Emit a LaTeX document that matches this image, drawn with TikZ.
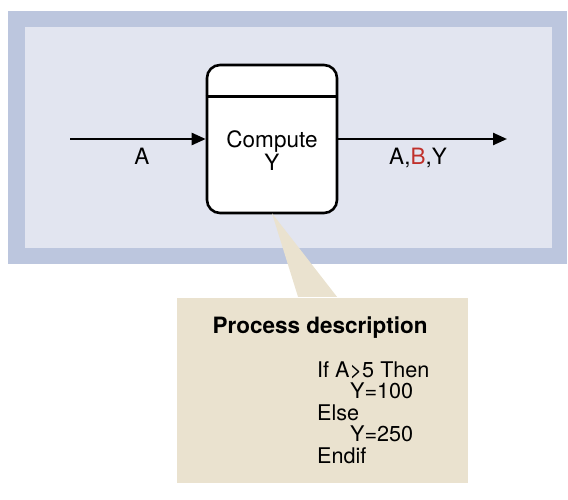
\documentclass[tikz,border=0pt]{standalone}
\usepackage{fontspec}
\setmainfont{TeX Gyre Heros}
\usetikzlibrary{arrows.meta}
\definecolor{bandblue}{HTML}{BCC6DE}
\definecolor{panelblue}{HTML}{E2E5F0}
\definecolor{notebeige}{HTML}{EAE2CF}
\definecolor{keyred}{HTML}{C0302B}
\begin{document}
\begin{tikzpicture}[x=1pt, y=-1pt]
        \tikzset{flow/.style={line width=2.4pt, -{Triangle[length=14pt, width=12pt]}},
                 label/.style={font=\fontsize{22.5}{23.5}\selectfont, inner sep=0pt},
                 procbox/.style={draw, line width=2.6pt, fill=white, rounded corners=13pt,
                                 minimum width=130pt, minimum height=148pt, inner sep=0pt}}
        \useasboundingbox (0, 0) rectangle (568, 500);

        % background frame
        \fill[bandblue] (8, 11) rectangle (567, 264);
        \fill[panelblue] (25, 27) rectangle (552, 248);

        \node[procbox] (proc) at (272, 139) {};
        \draw[line width=2.4pt] ([yshift=-33pt]proc.north west)
                                -- ([yshift=-33pt]proc.north east);
        \node[label, align=center, anchor=base] (proctext) at (272, 171)
             {Compute\\Y};

        \coordinate (in) at (70, 139);
        \coordinate (out) at (507, 139);
        \draw[flow] (in) -- (proc.west);
        \draw[flow] (proc.east) -- (out);
        \node[label, anchor=base] (inlabel) at (142, 165) {A};
        \node[label, anchor=base] (outlabel) at (418, 165)
             {A,\textcolor{keyred}{B},Y};

        % callout
        \node[fill=notebeige, minimum width=291pt, minimum height=185pt,
              inner sep=0pt] (desc) at (322.5, 390.5) {};
        \fill[notebeige] ([yshift=1pt]proc.south)
                         -- ([xshift=-24.5pt, yshift=1pt]desc.north)
                         -- ([xshift=14.5pt, yshift=1pt]desc.north) -- cycle;
        \node[label, font=\fontsize{22.5}{23}\selectfont\bfseries, anchor=base]
             (desctitle) at (320, 333) {Process description};
        \node[label, font=\fontsize{21.6}{21.5}\selectfont, align=left,
              anchor=north west] (desccode) at (317, 361)
             {If A>5 Then\\\hspace*{33pt}Y=100\\Else\\\hspace*{33pt}Y=250\\Endif};
      \end{tikzpicture}
\end{document}
